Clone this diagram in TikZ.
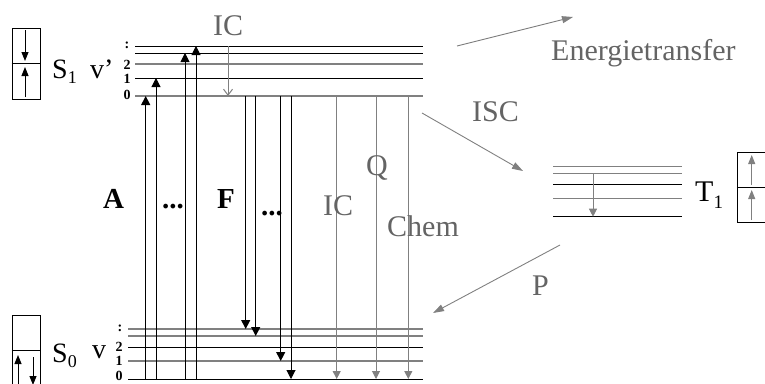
\documentclass[tikz,border=0pt]{standalone}
\usepackage{fontspec}
\setmainfont{Liberation Serif}
\usetikzlibrary{arrows.meta}
\definecolor{lgray}{RGB}{128,128,128}
\definecolor{tgray}{RGB}{100,100,100}
\begin{document}
\begin{tikzpicture}[x=1pt,y=-1pt,
  lvk/.style={line width=1pt,black},
  lvg/.style={line width=1.1pt,lgray},
  transk/.style={line width=1pt,black,-{Triangle[width=9pt,length=9pt]}},
  transg/.style={line width=1pt,lgray,-{Triangle[width=8pt,length=8pt]}},
  icarrow/.style={line width=1pt,lgray,-{Straight Barb[width=9pt,length=6pt]}},
  diagarrow/.style={line width=0.9pt,lgray,-{Triangle[width=7pt,length=11pt]}},
  spinbox/.style={draw,line width=0.9pt,rectangle,minimum width=28pt,minimum height=71pt,inner sep=0pt},
  spin/.style={line width=1pt,-{Triangle[width=7pt,length=9pt]}},
  glabel/.style={text=tgray,font=\fontsize{30}{30}\selectfont,inner sep=0pt,anchor=base west},
  blabel/.style={font=\fontsize{29}{29}\selectfont\bfseries,inner sep=0pt,anchor=base west},
  slabel/.style={font=\fontsize{28}{28}\selectfont,inner sep=0pt,anchor=base west},
  vnum/.style={font=\fontsize{14}{14}\selectfont\bfseries,inner sep=0pt,anchor=center},
]
\useasboundingbox (0,0) rectangle (765,383);
\clip (0,0) rectangle (765,383);

% ---- S1 levels
\foreach \n/\y/\s in {a/46/lvk, b/53/lvk, c/64/lvg, d/78/lvk, e/96/lvg}{
  \coordinate (s1\n L) at (135,\y);
  \coordinate (s1\n R) at (423,\y);
  \draw[\s] (s1\n L) -- (s1\n R);
}
% ---- S0 levels
\foreach \n/\y/\s in {a/329/lvg, b/336/lvg, c/347/lvk, d/361/lvg, e/379/lvk}{
  \coordinate (s0\n L) at (128,\y);
  \coordinate (s0\n R) at (423,\y);
  \draw[\s] (s0\n L) -- (s0\n R);
}
% ---- T1 levels
\foreach \n/\y/\s in {a/166.7/lvg, b/173.3/lvg, c/184/lvk, d/198.3/lvg, e/216.7/lvk}{
  \coordinate (t1\n L) at (553,\y);
  \coordinate (t1\n R) at (682,\y);
  \draw[\s] (t1\n L) -- (t1\n R);
}

% ---- absorption
\coordinate (xA1) at (145.7,0);
\coordinate (xA2) at (156,0);
\coordinate (xA3) at (185,0);
\coordinate (xA4) at (196,0);
\draw[transk] (xA1 |- s0eL) -- (xA1 |- s1eL);
\draw[transk] (xA2 |- s0eL) -- (xA2 |- s1dL);
\draw[transk] (xA3 |- s0eL) -- (xA3 |- s1bL);
\draw[transk] (xA4 |- s0eL) -- (xA4 |- s1aL);

% ---- fluorescence
\coordinate (xF1) at (245.7,0);
\coordinate (xF2) at (255.7,0);
\coordinate (xF3) at (280.7,0);
\coordinate (xF4) at (291,0);
\draw[transk] (xF1 |- s1eL) -- (xF1 |- s0aL);
\draw[transk] (xF2 |- s1eL) -- (xF2 |- s0bL);
\draw[transk] (xF3 |- s1eL) -- (xF3 |- s0dL);
\draw[transk] (xF4 |- s1eL) -- (xF4 |- s0eL);

% ---- IC, Q, Chem
\coordinate (xG1) at (336.7,0);
\coordinate (xG2) at (376,0);
\coordinate (xG3) at (408.3,0);
\draw[transg] (xG1 |- s1eL) -- (xG1 |- s0eL);
\draw[transg] (xG2 |- s1eL) -- (xG2 |- s0eL);
\draw[transg] (xG3 |- s1eL) -- (xG3 |- s0eL);

% ---- internal conversion in S1
\coordinate (xIC) at (228,0);
\draw[icarrow] (xIC |- s1aL) -- (xIC |- s1eL);

% ---- T1 relaxation
\coordinate (xT) at (593,0);
\draw[transg] (xT |- t1bL) -- (xT |- t1eL);

% ---- diagonal arrows
\coordinate (eS) at (457,46);
\coordinate (eE) at (573,17);
\coordinate (iS) at (422,113);
\coordinate (iE) at (523,171);
\coordinate (pS) at (560,245);
\coordinate (pE) at (433,313);
\draw[diagarrow] (eS) -- (eE);
\draw[diagarrow] (iS) -- (iE);
\draw[diagarrow] (pS) -- (pE);

% ---- spin boxes
\node[spinbox] (boxS1) at (26,63.5) {};
\draw[line width=0.9pt] (boxS1.west) -- (boxS1.east);
\coordinate (b1a) at (25,30);
\coordinate (b1b) at (25,61);
\coordinate (b1c) at (25,97);
\coordinate (b1d) at (25,67);
\draw[spin] (b1a) -- (b1b);
\draw[spin] (b1c) -- (b1d);

\node[spinbox] (boxS0) at (26,350.5) {};
\draw[line width=0.9pt] (boxS0.west) -- (boxS0.east);
\coordinate (b0a) at (18,384);
\coordinate (b0b) at (18,355);
\coordinate (b0c) at (33,357);
\coordinate (b0d) at (33,385);
\draw[spin] (b0a) -- (b0b);
\draw[spin] (b0c) -- (b0d);

\node[spinbox,minimum height=70pt] (boxT1) at (751.4,187.3) {};
\draw[line width=0.9pt] (boxT1.west) -- (boxT1.east);
\coordinate (btA) at (751.7,185);
\coordinate (btB) at (751.7,155);
\coordinate (btC) at (751.7,220);
\coordinate (btD) at (751.7,190);
\draw[spin,draw=lgray] (btA) -- (btB);
\draw[spin,draw=lgray] (btC) -- (btD);

% ---- state labels
\node[slabel] (labS1) at (52,78) {S\raisebox{-5pt}{\fontsize{18}{18}\selectfont 1}};
\node[slabel] (labv1) at (90,78) {v'};
\node[slabel] (labS0) at (52,362) {S\raisebox{-5pt}{\fontsize{18}{18}\selectfont 0}};
\node[slabel] (labv0) at (92,358) {v};
\node[slabel,font=\fontsize{30}{30}\selectfont] (labT1) at (695,201) {T\raisebox{-7pt}{\fontsize{19}{19}\selectfont 1}};

% ---- vibrational numbers
\node[vnum] (n1d) at (127,45) {:};
\node[vnum] (n12) at (127,65) {2};
\node[vnum] (n11) at (127,79) {1};
\node[vnum] (n10) at (127,95) {0};
\node[vnum] (n0d) at (120,328) {:};
\node[vnum] (n02) at (119,347) {2};
\node[vnum] (n01) at (119,361) {1};
\node[vnum] (n00) at (119,376) {0};

% ---- process labels
\node[blabel] (labA) at (103,208) {A};
\node[blabel] (dots1) at (162,208) {...};
\node[blabel] (labF) at (217,208) {F};
\node[blabel] (dots2) at (261,215) {...};

\node[glabel] (labIC1) at (213,35) {IC};
\node[glabel] (labIC2) at (323,215) {IC};
\node[glabel] (labQ) at (366,175) {Q};
\node[glabel] (labChem) at (387,236.7) {Chem};
\node[glabel] (labISC) at (472,121.7) {ISC};
\node[glabel] (labP) at (532,295) {P};
\node[glabel] (labE) at (551,60) {Energietransfer};
\end{tikzpicture}
\end{document}
